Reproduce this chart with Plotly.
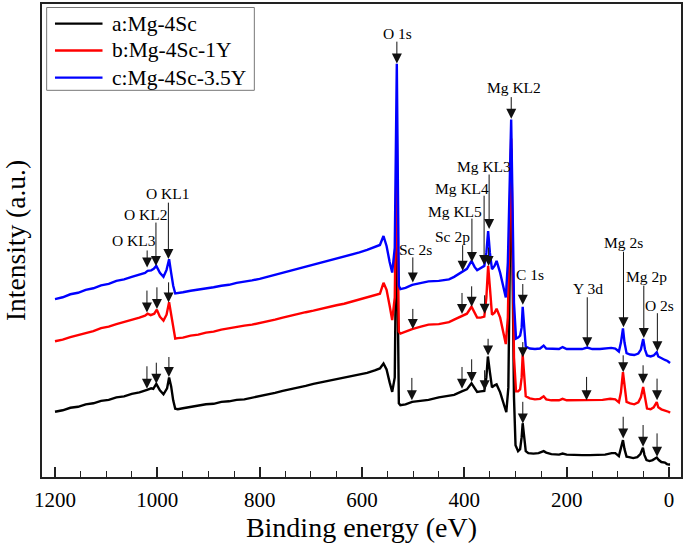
import plotly.graph_objects as go

# ---------------- data (binding energy in eV, intensity in a.u.) ----------------
energy_a = [1200, 1185, 1170, 1155, 1140, 1125, 1110, 1095, 1080, 1065, 1050, 1035, 1020, 1012, 1008, 1002, 995, 988, 981, 977, 973, 969, 965, 960,
            950, 935, 920, 905, 890, 875, 860, 845, 830, 815, 800, 785, 770, 755, 740, 725, 710, 695, 680, 665, 650, 635, 620, 605, 590,
            575, 565, 558, 552, 546, 541, 536, 534, 532, 530, 528, 525, 515, 502, 485, 470, 450, 435, 420, 405, 395, 386, 380, 375, 368,
            361, 357, 354, 350, 346, 341, 337, 330, 324, 318, 314, 311, 308.5, 306, 303, 300, 295, 291, 288, 286, 283.5, 280, 275, 265,
            255, 245, 240, 230, 215, 208, 200, 185, 170, 155, 140, 125, 112, 105, 98, 94, 90, 87, 83, 78, 70, 62, 56, 51, 48, 44, 38, 32,
            24, 20, 15, 8, 4, 0, -2]
intensity_a = [65.5, 67, 69.5, 70.5, 73, 74, 76.5, 77.5, 80, 81, 83.5, 85, 87.5, 89, 88.5, 93.5, 87, 83, 89, 100, 91, 77, 68.5, 68,
               69, 70.5, 71.5, 73, 73.5, 75.5, 76, 77.5, 78, 79.5, 81.5, 83, 84.5, 86.5, 88, 90, 91.5, 93.5, 95, 96.5, 98.5, 99.5, 101.5, 103, 104.5,
               107, 109, 114, 108, 95, 85.5, 100, 180, 300, 170, 74, 72, 73, 75.5, 76.5, 77.5, 80, 81, 82.5, 86, 88, 94, 89, 85.5, 86,
               86.5, 100, 121, 105, 90, 92, 93, 85, 75, 65, 90, 220, 330, 220, 80, 32, 26, 28, 40, 54, 40, 26, 24, 23.5,
               24, 26, 24.5, 23, 22.5, 23.5, 22.5, 22, 22, 22, 22, 22.5, 24, 24, 21, 28, 37, 28, 20.5, 20, 19, 20, 23, 29.5, 22, 17, 16, 17,
               19.5, 17, 15, 14.5, 13, 12.5, 12.5]

energy_b = [1200, 1185, 1170, 1155, 1140, 1125, 1110, 1095, 1080, 1065, 1050, 1035, 1024, 1019, 1013, 1006, 1001, 995, 988, 982, 977, 973, 969, 965,
            960, 950, 935, 920, 905, 890, 875, 860, 845, 830, 815, 800, 785, 770, 755, 740, 725, 710, 695, 680, 665, 650, 635, 620, 605,
            590, 575, 565, 558, 552, 546, 541, 536, 534, 532, 530, 528, 525, 515, 502, 485, 470, 450, 430, 420, 405, 395, 386, 380, 375,
            368, 361, 357, 353.5, 350, 346, 341, 337, 330, 324, 319, 315, 311, 308.5, 306, 303, 299, 295, 291, 288, 286, 283.5, 280, 272,
            262, 252, 245, 240, 230, 215, 208, 200, 185, 170, 160, 145, 130, 115, 105, 98, 94, 90, 87, 83, 76, 68, 60, 55, 50.5, 47, 43,
            36, 30, 24, 21, 15, 8, 3, 0, -2]
intensity_b = [136.3, 138, 140.5, 142.5, 145, 146.5, 149.5, 151, 153.5, 155.5, 157.5, 160, 162, 164, 162.5, 164, 168, 161, 157, 163, 175.5, 163, 149, 139,
               139.5, 140, 142, 143, 145, 146, 148, 149.5, 151, 152, 153, 154.5, 156.5, 158, 160, 162, 163.5, 165.5, 167, 169, 170.5, 172.5, 174, 176, 178,
               180, 182, 184, 195, 188, 172, 157.5, 180, 250, 345, 230, 146, 144, 146, 148.5, 151, 153, 153.5, 155.5, 158, 162, 164, 171, 165, 160,
               160, 161, 180, 212, 190, 163, 165, 169, 160, 145, 133.5, 160, 260, 340, 250, 120, 86, 86, 88, 100, 123, 105, 81, 79,
               78, 78.5, 81, 78, 77, 77, 78.5, 77, 77, 77, 77.5, 77, 77.5, 78.5, 78, 75, 85, 105.3, 90, 75.5, 74, 73, 75, 80, 90.3, 78, 68.7,
               68, 70, 75.3, 70, 68, 67, 66, 65.3, 64.5]

energy_c = [1200, 1185, 1170, 1155, 1140, 1125, 1110, 1095, 1080, 1065, 1050, 1035, 1024, 1019, 1012, 1007, 1002, 995, 988, 982, 977, 973, 969, 965,
            960, 950, 935, 920, 905, 890, 875, 860, 845, 830, 815, 800, 785, 770, 755, 740, 725, 710, 695, 680, 665, 650, 635, 620, 605,
            590, 575, 565, 558, 552, 546, 541, 536, 534, 532, 530, 528, 525, 515, 502, 485, 470, 450, 430, 420, 405, 395, 386, 380, 375,
            368, 361, 357, 353.5, 350, 346, 341, 337, 330, 324, 319, 315, 311, 308.5, 306, 303, 299, 295, 291, 288, 286, 283.5, 280, 272,
            262, 252, 245, 240, 230, 215, 208, 200, 185, 170, 160, 150, 135, 120, 113, 105, 98, 94, 90, 87, 83, 76, 68, 60, 55, 50.5, 47, 43,
            36, 30, 24, 21, 15, 8, 3, 0, -2]
intensity_c = [178.7, 180.5, 183.5, 185, 188, 189.5, 192.5, 194, 197, 198.5, 201, 203, 205, 207, 207.5, 209, 212, 205, 201, 208, 218.7, 205, 192, 184.3,
               184.5, 185.5, 187, 188, 189.5, 190.5, 192, 193, 195, 196, 197.5, 199, 201, 203, 205, 207, 209.5, 211, 213, 215, 217, 219, 221.5, 223, 225.5,
               228, 231, 233, 242, 232, 216, 205.3, 230, 320, 415, 300, 192, 188.7, 190, 193, 195, 196.5, 197, 198.5, 201, 206.3, 209, 217, 211, 207.7,
               210, 212, 225, 247, 225, 208.7, 212, 217, 205, 190, 180.3, 215, 300, 359, 280, 175, 139, 140, 142, 150, 171, 150, 131, 129,
               128.5, 129, 132, 129, 128.5, 128.5, 130.5, 128.5, 128.5, 128.5, 130, 128.5, 128.5, 129, 129.7, 129, 126, 135, 149.3, 135, 124.3, 123, 122.5, 124, 128, 138.7, 128, 122,
               121, 122, 125.3, 121, 119, 117.5, 116.5, 114.7, 114.5]

series_names = ["a:Mg-4Sc", "b:Mg-4Sc-1Y", "c:Mg-4Sc-3.5Y"]
series_colors = ["#000000", "#ff0000", "#0000ff"]

# peak labels (placed above curve c)
peak_labels = ["O KL3", "O KL2", "O KL1", "O 1s", "Sc 2s", "Sc 2p", "Mg KL5", "Mg KL4", "Mg KL3", "Mg KL2",
               "C 1s", "Y 3d", "Mg 2s", "Mg 2p", "O 2s"]
label_energy = [1046.2, 1022.8, 980, 531.3, 494.8, 422.8, 418.9, 405.2, 361.8, 303.9, 272.2, 157.8, 88.3, 44.2, 18.9]
label_intensity = [238, 264, 284.3, 445.3, 228.7, 242, 267, 289.7, 312, 391, 203, 189.7, 235.3, 201, 172]

# marker arrows: energy, arrow tip intensity, arrow tail intensity
arrow_energy_c = [1019.9, 1002.7, 978.4, 531.9, 500.7, 403.3, 385.2, 361.4, 351.6, 308.4, 285.8, 159.8, 89, 49.3, 22.8]
arrow_tip_c = [210.3, 212, 219, 415.3, 195.3, 207, 216, 213, 249, 359.7, 173, 130.3, 150.3, 139.7, 126.3]
arrow_tail_c = [229, 257, 277, 438.7, 222, 234.3, 261, 284, 305.3, 383, 195.3, 182, 227.7, 193.7, 166]

arrow_energy_b = [1020.3, 1000.8, 978, 500.7, 404.6, 385.7, 360.4, 352.6, 285.8, 161.1, 89.6, 50.7, 23.4]
arrow_tip_b = [165.3, 168.7, 175.3, 148.7, 163.7, 171, 164, 212, 120.3, 77, 105.3, 93.7, 77]
arrow_tail_b = [188.7, 192, 197, 170.3, 186.3, 193, 184, 232, 137, 102, 123.7, 113.7, 100.3]

arrow_energy_a = [1020.3, 1002, 977.4, 502.6, 404.6, 385.7, 360.4, 353.6, 285.8, 89.6, 50.7, 23.4]
arrow_tip_a = [88.7, 93.7, 100.3, 77, 88.7, 95.3, 87, 122, 53.7, 38.7, 30.3, 20.3]
arrow_tail_a = [112.7, 116.3, 122, 101, 112, 119.7, 108.7, 140.3, 77, 62, 53.7, 45.3]

x_tick_values = [1200, 1000, 800, 600, 400, 200, 0]

FONT = "Liberation Serif, Times New Roman, serif"

fig = go.Figure()
for name, color, xs, ys in zip(series_names, series_colors,
                               [energy_a, energy_b, energy_c],
                               [intensity_a, intensity_b, intensity_c]):
    fig.add_trace(go.Scatter(x=xs, y=ys, mode="lines", name=name,
                             line=dict(color=color, width=2.4), showlegend=False))

# arrows
for es, tips, tails in [(arrow_energy_c, arrow_tip_c, arrow_tail_c),
                        (arrow_energy_b, arrow_tip_b, arrow_tail_b),
                        (arrow_energy_a, arrow_tip_a, arrow_tail_a)]:
    for e, tp, tl in zip(es, tips, tails):
        fig.add_annotation(x=e, y=tp, ax=e, ay=tl, xref="x", yref="y", axref="x", ayref="y",
                           text="", showarrow=True, arrowhead=2, arrowsize=2, arrowwidth=1,
                           arrowcolor="#111111")

# peak labels
for lab, e, v in zip(peak_labels, label_energy, label_intensity):
    fig.add_annotation(x=e, y=v, xref="x", yref="y", text=lab, showarrow=False,
                       xanchor="center", yanchor="middle",
                       font=dict(family=FONT, size=15.5, color="#000000"))

# custom legend (box, line samples, labels)
fig.add_shape(type="rect", xref="paper", yref="paper", x0=0.0073, x1=0.3323, y0=0.8175, y1=0.9926,
              line=dict(color="#777777", width=1), fillcolor="rgba(255,255,255,0)")
legend_rows = [0.9585, 0.9017, 0.8444]
for name, color, yrow in zip(series_names, series_colors, legend_rows):
    fig.add_shape(type="line", xref="paper", yref="paper", x0=0.0203, x1=0.0947, y0=yrow, y1=yrow,
                  line=dict(color=color, width=2.4))
    fig.add_annotation(x=0.1061, y=yrow, xref="paper", yref="paper", text=name, showarrow=False,
                       xanchor="left", yanchor="middle",
                       font=dict(family=FONT, size=21.5, color="#000000"))

fig.update_layout(
    width=685, height=549,
    margin=dict(l=42, r=2, t=2, b=72),
    paper_bgcolor="white", plot_bgcolor="white",
    font=dict(family=FONT, color="#000000"),
    xaxis=dict(range=[1225.4, -23.4], tickvals=x_tick_values,
               ticks="inside", ticklen=10, tickwidth=1.5, tickcolor="#222222",
               minor=dict(ticks="inside", ticklen=6, tickwidth=1.2, dtick=50, tickcolor="#222222"),
               showline=True, linecolor="#222222", linewidth=2, mirror=True,
               showgrid=False, zeroline=False,
               tickfont=dict(family=FONT, size=21, color="#000000"),
               ticklabelstandoff=3,
               title=dict(text="Binding energy (eV)", font=dict(family=FONT, size=28, color="#000000"),
                          standoff=4)),
    yaxis=dict(range=[0, 475], showticklabels=False, ticks="",
               showline=True, linecolor="#222222", linewidth=2, mirror=True,
               showgrid=False, zeroline=False,
               title=dict(text="Intensity (a.u.)", font=dict(family=FONT, size=27.5, color="#000000"),
                          standoff=11)),
)

fig.write_html("out.html", config={"displayModeBar": False},
               post_script="document.body.style.margin='0';")
